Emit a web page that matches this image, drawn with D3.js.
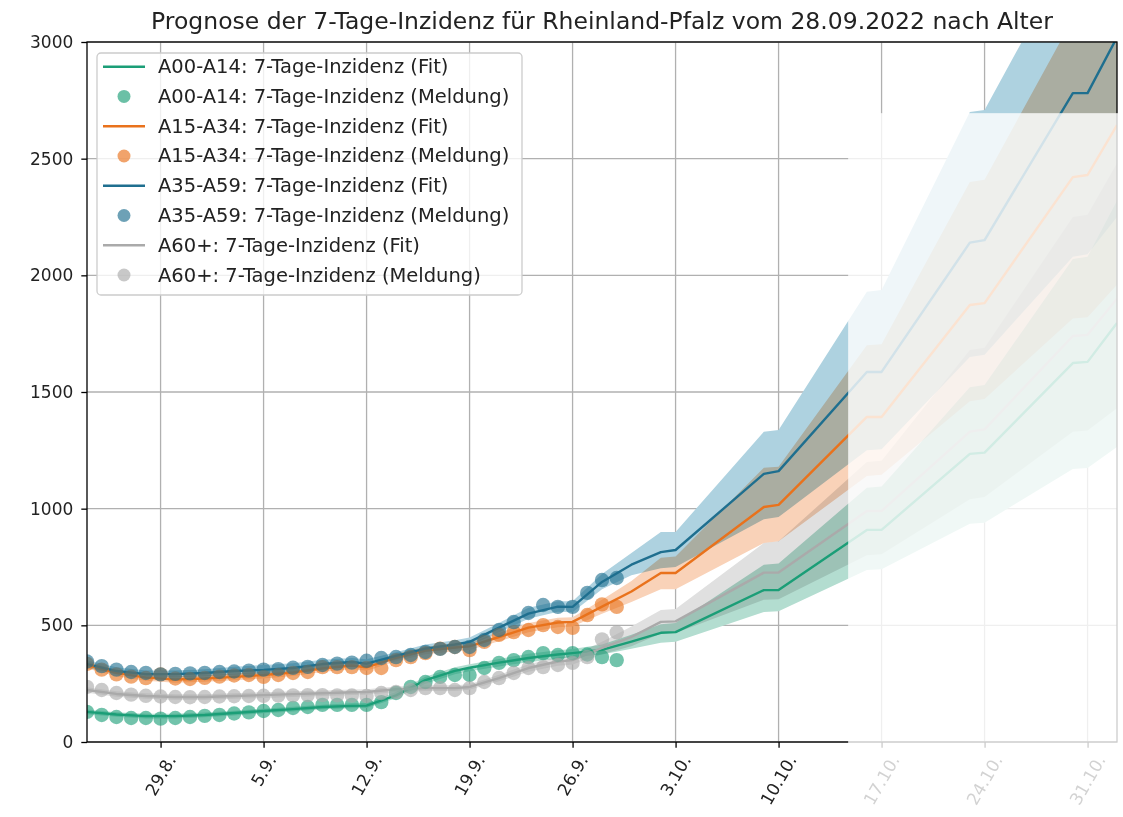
<!DOCTYPE html>
<html>
<head>
<meta charset="utf-8">
<script src="https://cdn.jsdelivr.net/npm/d3@7"></script>
<style>
  body { margin: 0; background: #fff; }
  svg { font-family: "DejaVu Sans", sans-serif; display: block; }
</style>
</head>
<body>
<div id="chart"></div>
<script>
// chart text
const title = "Prognose der 7-Tage-Inzidenz für Rheinland-Pfalz vom 28.09.2022 nach Alter";
const groups = ["A00-A14", "A15-A34", "A35-A59", "A60+"];
const xTickDates = ["2022-08-29", "2022-09-05", "2022-09-12", "2022-09-19", "2022-09-26",
                    "2022-10-03", "2022-10-10", "2022-10-17", "2022-10-24", "2022-10-31"];
const yTicks = [0, 500, 1000, 1500, 2000, 2500, 3000];

// reported values (Meldung), one per day from meldStart
const meldStart = "2022-08-24";
const meldA00 = [129,116,107,103,103,100,103,107,112,116,122,127,133,137,146,150,159,159,159,159,171,210,236,257,279,287,287,317,339,351,364,381,373,381,375,364,351];
const meldA15 = [335,310,290,280,274,290,272,270,275,280,285,287,279,287,296,300,321,321,321,317,317,351,364,381,400,407,394,429,459,471,480,501,493,489,544,590,579];
const meldA35 = [345,325,310,300,296,290,292,294,296,300,302,306,310,312,318,322,330,336,340,348,360,364,373,386,399,407,407,437,480,514,553,587,579,579,639,694,703];
const meldA60 = [236,223,210,203,198,195,193,192,193,195,196,197,198,199,200,201,201,200,199,197,210,214,223,231,231,223,231,257,274,296,317,321,330,339,364,440,470];

// fit / forecast with uncertainty band
const fitDates = ["2022-08-24","2022-08-26","2022-08-28","2022-08-30","2022-09-01","2022-09-03","2022-09-05","2022-09-07",
                  "2022-09-09","2022-09-11","2022-09-12","2022-09-14","2022-09-16","2022-09-18","2022-09-19","2022-09-21",
                  "2022-09-23","2022-09-25","2022-09-26","2022-09-28","2022-09-30","2022-10-02","2022-10-03","2022-10-09",
                  "2022-10-10","2022-10-16","2022-10-17","2022-10-23","2022-10-24","2022-10-30","2022-10-31","2022-11-02"];
const fitA00 = [129,118,111,111,116,124,133,141,150,155,156,200,265,305,318,340,360,375,381,395,430,468,471,651,651,909,909,1235,1240,1624,1629,1796];
const hiA00  = [139,128,121,121,126,134,143,151,160,166,167,214,280,320,333,356,378,393,399,418,460,505,510,760,765,1090,1095,1520,1530,2070,2080,2320];
const loA00  = [119,108,101,101,106,114,123,131,140,145,146,188,250,290,303,324,342,357,363,375,400,425,430,557,560,737,740,935,940,1170,1174,1264];
const fitA15 = [330,296,276,268,272,279,287,298,315,328,320,362,392,405,410,450,490,512,515,580,645,724,724,1007,1016,1393,1393,1873,1881,2421,2430,2644];
const hiA15  = [345,310,290,282,286,293,302,313,330,343,335,378,408,421,426,468,510,532,535,610,690,790,795,1175,1180,1700,1705,2400,2410,3100,3110,3450];
const loA15  = [315,282,262,254,258,265,272,283,300,313,305,346,376,389,394,432,470,492,495,550,600,655,655,853,860,1140,1145,1460,1470,1815,1820,1960];
const fitA35 = [334,304,291,291,296,304,309,317,334,343,336,369,400,418,429,490,550,580,579,686,760,814,823,1149,1161,1586,1586,2140,2151,2781,2781,3020];
const hiA35  = [350,320,306,306,312,322,330,338,352,360,355,385,418,436,448,510,575,603,603,720,810,900,900,1330,1337,1930,1937,2700,2709,3400,3420,3700];
const loA35  = [318,290,276,276,282,288,292,298,316,326,320,353,385,400,412,470,528,558,556,655,715,745,750,955,964,1250,1255,1650,1660,2080,2090,2250];
const fitA60 = [223,206,197,193,193,197,201,205,209,213,214,226,231,231,236,274,317,345,351,403,450,515,517,726,726,990,990,1330,1340,1740,1745,1900];
const hiA60  = [235,218,209,205,205,209,213,217,221,225,226,238,243,243,248,288,333,363,370,430,495,566,570,853,860,1200,1205,1680,1690,2250,2260,2480];
const loA60  = [211,194,185,181,181,185,189,193,197,201,202,214,219,219,224,260,301,327,332,376,410,465,467,610,612,800,805,1040,1050,1330,1335,1430];

// faded region at the right (forecast far end)
const overlayFrom = "2022-10-14T17:30";
const overlayTop = 2695;

const lineColors = ["#1b9e77", "#e9721c", "#1f6f8f", "#aaaaaa"];
const bandColors = ["#b3ddd0", "#f9d2b8", "#aed2e0", "#e0e0e0"];

const W = 1123, H = 817;
const margin = { top: 42, right: 6, bottom: 75, left: 87 };
const parse = d3.timeParse("%Y-%m-%d");
const parseT = d3.timeParse("%Y-%m-%dT%H:%M");

const series = [
  { meld: meldA00, fit: fitA00, lo: loA00, hi: hiA00 },
  { meld: meldA15, fit: fitA15, lo: loA15, hi: hiA15 },
  { meld: meldA35, fit: fitA35, lo: loA35, hi: hiA35 },
  { meld: meldA60, fit: fitA60, lo: loA60, hi: hiA60 }
];
const fitD = fitDates.map(parse);
const meldD = d3.timeDays(parse(meldStart), d3.timeDay.offset(parse(meldStart), meldA00.length));

const x = d3.scaleTime()
  .domain([parse("2022-08-24"), parse("2022-11-02")])
  .range([margin.left, W - margin.right]);
const y = d3.scaleLinear()
  .domain([0, 3000])
  .range([H - margin.bottom, margin.top]);

const svg = d3.select("#chart").append("svg")
  .attr("width", W)
  .attr("height", H);
svg.append("rect").attr("width", W).attr("height", H).attr("fill", "#fff");

const [x0, x1] = x.range();
const [yb, yt] = y.range();

svg.append("clipPath").attr("id", "plot")
  .append("rect").attr("x", x0).attr("y", yt).attr("width", x1 - x0).attr("height", yb - yt);

// grid
const grid = svg.append("g").attr("stroke", "#b0b0b0").attr("stroke-width", 1.3);
grid.selectAll("line.v").data(xTickDates.map(parse)).join("line")
  .attr("x1", d => x(d)).attr("x2", d => x(d)).attr("y1", yt).attr("y2", yb);
grid.selectAll("line.h").data(yTicks).join("line")
  .attr("y1", d => y(d)).attr("y2", d => y(d)).attr("x1", x0).attr("x2", x1);

const plot = svg.append("g").attr("clip-path", "url(#plot)");

// bands
const area = d3.area()
  .x((d, i) => x(fitD[i]))
  .y0(d => y(d[0]))
  .y1(d => y(d[1]));
series.forEach((s, k) => {
  plot.append("path")
    .datum(s.lo.map((v, i) => [v, s.hi[i]]))
    .attr("d", area)
    .attr("fill", bandColors[k])
    .style("mix-blend-mode", "multiply");
});

// fit lines
const line = d3.line().x((d, i) => x(fitD[i])).y(d => y(d));
series.forEach((s, k) => {
  plot.append("path")
    .datum(s.fit)
    .attr("d", line)
    .attr("fill", "none")
    .attr("stroke", lineColors[k])
    .attr("stroke-width", 2.4)
    .attr("stroke-linejoin", "round");
});

// reported dots
series.forEach((s, k) => {
  plot.append("g").selectAll("circle").data(s.meld).join("circle")
    .attr("cx", (d, i) => x(meldD[i]))
    .attr("cy", d => y(d))
    .attr("r", 7.2)
    .attr("fill", lineColors[k])
    .attr("fill-opacity", 0.62);
});

// frame
svg.append("rect")
  .attr("x", x0).attr("y", yt).attr("width", x1 - x0).attr("height", yb - yt)
  .attr("fill", "none").attr("stroke", "#000").attr("stroke-width", 1.3);

// y axis
const yAxis = svg.append("g").attr("transform", `translate(${x0},0)`)
  .call(d3.axisLeft(y).tickValues(yTicks).tickSize(5.7).tickPadding(8).tickFormat(d3.format("d")));
yAxis.select(".domain").remove();
yAxis.selectAll(".tick line").attr("stroke", "#000").attr("stroke-width", 1.3);
yAxis.selectAll(".tick text").attr("font-size", 17).attr("fill", "#222")
  .attr("font-family", "DejaVu Sans");

// x axis ticks
const xAxis = svg.append("g").attr("transform", `translate(0,${yb})`)
  .call(d3.axisBottom(x).tickValues(xTickDates.map(parse)).tickSize(5.7).tickFormat(""));
xAxis.select(".domain").remove();
xAxis.selectAll(".tick line").attr("stroke", "#000").attr("stroke-width", 1.3);

// rotated x labels, rotated box centred under the tick
const fmt = d3.timeFormat("%-d.%-m.");
const ang = Math.PI / 3;
svg.append("g").selectAll("text").data(xTickDates.map(parse)).join("text")
  .text(d => fmt(d))
  .attr("font-size", 17)
  .attr("fill", "#222")
  .attr("text-anchor", "middle")
  .attr("dominant-baseline", "central")
  .each(function (d) {
    const w = this.getComputedTextLength();
    const h = 17 * 0.9;
    const bh = w * Math.sin(ang) + h * Math.cos(ang);
    d3.select(this).attr("transform", `translate(${x(d)},${yb + 5.7 + 5 + bh / 2}) rotate(-60)`);
  });

// title
svg.append("text")
  .attr("x", (x0 + x1) / 2)
  .attr("y", 29)
  .attr("text-anchor", "middle")
  .attr("font-size", 23.5)
  .attr("fill", "#222")
  .text(title);

// legend
const leg = svg.append("g");
leg.append("rect")
  .attr("x", 97).attr("y", 53).attr("width", 425).attr("height", 242).attr("rx", 4)
  .attr("fill", "#fff").attr("fill-opacity", 0.8)
  .attr("stroke", "#cccccc").attr("stroke-width", 1.3);
const entries = [];
groups.forEach((g, k) => {
  entries.push({ label: `${g}: 7-Tage-Inzidenz (Fit)`, k, type: "line" });
  entries.push({ label: `${g}: 7-Tage-Inzidenz (Meldung)`, k, type: "dot" });
});
const row = leg.selectAll("g").data(entries).join("g")
  .attr("transform", (d, i) => `translate(0,${66.7 + i * 29.76})`);
row.filter(d => d.type === "line").append("line")
  .attr("x1", 103).attr("x2", 145).attr("y1", 0).attr("y2", 0)
  .attr("stroke", d => lineColors[d.k]).attr("stroke-width", 2.4);
row.filter(d => d.type === "dot").append("circle")
  .attr("cx", 124).attr("cy", 0).attr("r", 6.5)
  .attr("fill", d => lineColors[d.k]).attr("fill-opacity", 0.65);
row.append("text")
  .attr("x", 158).attr("y", 0)
  .attr("dominant-baseline", "central")
  .attr("font-size", 19.5)
  .attr("fill", "#222")
  .text(d => d.label);

// fade the far end of the forecast
svg.append("rect")
  .attr("x", x(parseT(overlayFrom)))
  .attr("y", y(overlayTop))
  .attr("width", W - x(parseT(overlayFrom)))
  .attr("height", H - y(overlayTop))
  .attr("fill", "#fff")
  .attr("fill-opacity", 0.8);
</script>
</body>
</html>
